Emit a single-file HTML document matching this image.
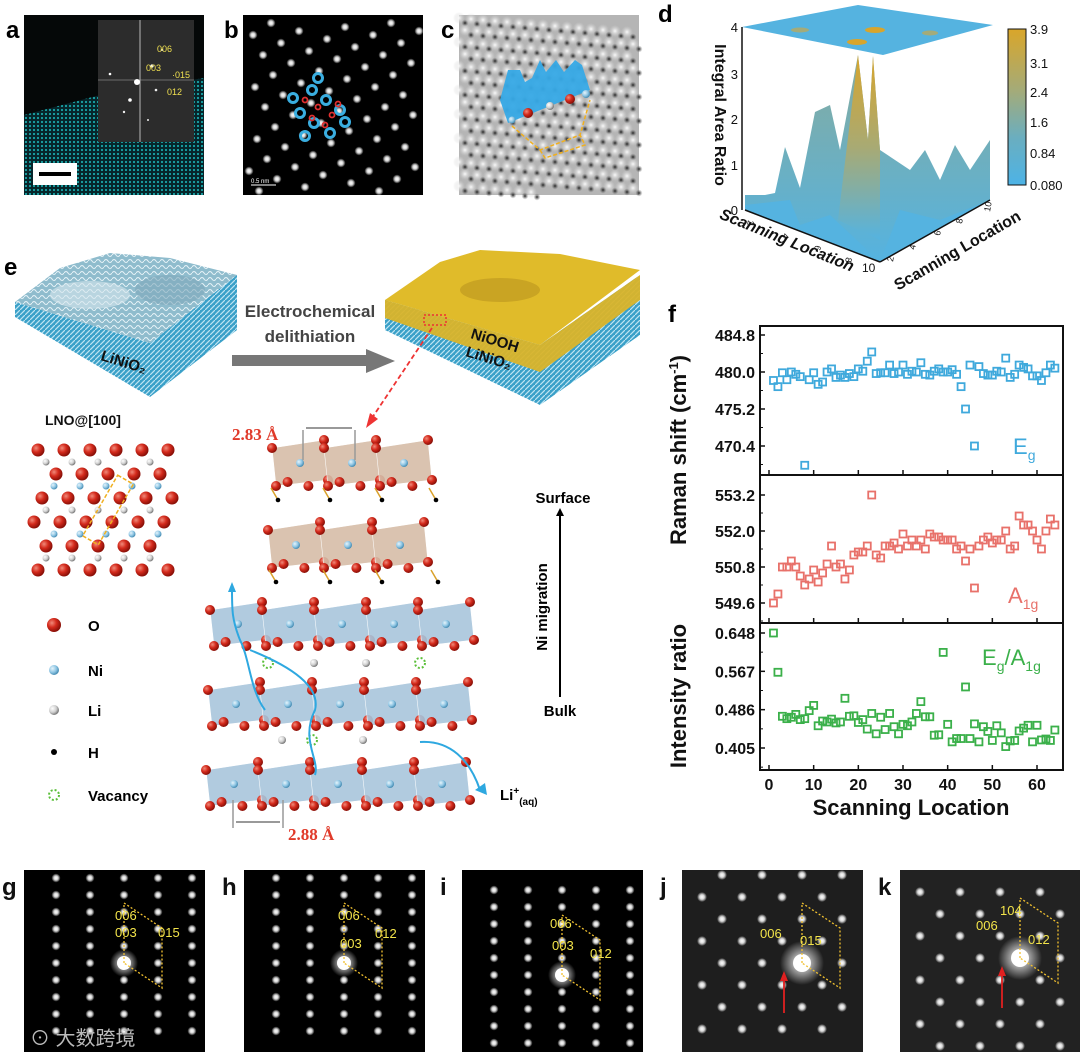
<!DOCTYPE html>
<html><head><meta charset="utf-8">
<style>
html,body{margin:0;padding:0;background:#fff;}
body{width:1080px;height:1057px;position:relative;overflow:hidden;font-family:"Liberation Sans",Arial,sans-serif;}
svg{position:absolute;left:0;top:0;}
</style></head>
<body>
<svg id="fig" width="1080" height="1057" viewBox="0 0 1080 1057" xmlns="http://www.w3.org/2000/svg" font-family="Liberation Sans, Arial, sans-serif">
<defs>
<radialGradient id="gO" cx="35%" cy="35%" r="65%"><stop offset="0" stop-color="#f08a7a"/><stop offset="0.5" stop-color="#d42a1c"/><stop offset="1" stop-color="#8a1008"/></radialGradient>
<radialGradient id="gNi" cx="35%" cy="35%" r="65%"><stop offset="0" stop-color="#e6f4fb"/><stop offset="0.6" stop-color="#8fc6e4"/><stop offset="1" stop-color="#4a8fb5"/></radialGradient>
<radialGradient id="gLi" cx="35%" cy="35%" r="65%"><stop offset="0" stop-color="#ffffff"/><stop offset="0.6" stop-color="#cfcfcf"/><stop offset="1" stop-color="#7a7a7a"/></radialGradient>
<radialGradient id="spot" cx="50%" cy="50%" r="50%"><stop offset="0" stop-color="#fff"/><stop offset="0.45" stop-color="#eee" stop-opacity="0.9"/><stop offset="1" stop-color="#fff" stop-opacity="0"/></radialGradient>
<radialGradient id="cblob" cx="50%" cy="50%" r="50%"><stop offset="0" stop-color="#fafafa"/><stop offset="1" stop-color="#d0d0d0" stop-opacity="0"/></radialGradient>
<radialGradient id="dblob" cx="50%" cy="50%" r="50%"><stop offset="0" stop-color="#222"/><stop offset="1" stop-color="#666" stop-opacity="0"/></radialGradient>
<radialGradient id="glow" cx="50%" cy="50%" r="50%"><stop offset="0" stop-color="#fff"/><stop offset="0.4" stop-color="#fff" stop-opacity="0.6"/><stop offset="1" stop-color="#fff" stop-opacity="0"/></radialGradient>
<linearGradient id="cbar" x1="0" y1="1" x2="0" y2="0"><stop offset="0" stop-color="#4db3e6"/><stop offset="0.3" stop-color="#6aaec0"/><stop offset="0.6" stop-color="#a3ab7a"/><stop offset="1" stop-color="#d9a62a"/></linearGradient>
<linearGradient id="peak" x1="0" y1="1" x2="0" y2="0"><stop offset="0" stop-color="#55b3e0"/><stop offset="0.5" stop-color="#a8aa74"/><stop offset="1" stop-color="#d8a52c"/></linearGradient>
<linearGradient id="midpk" x1="0" y1="1" x2="0" y2="0"><stop offset="0" stop-color="#55b3e0"/><stop offset="1" stop-color="#86ab9e"/></linearGradient>
<pattern id="hatch" width="5" height="5" patternUnits="userSpaceOnUse"><rect width="5" height="5" fill="#3aa0c8"/><path d="M0 5L5 0" stroke="#bfe4f2" stroke-width="1.2"/></pattern>
<pattern id="surf" width="8" height="6" patternUnits="userSpaceOnUse"><rect width="8" height="6" fill="#8fbccd"/><path d="M0 3 Q2 0 4 3 T8 3" stroke="#e6f2f7" stroke-width="1.1" fill="none"/></pattern>
<pattern id="teal" width="4" height="4" patternUnits="userSpaceOnUse"><rect width="4" height="4" fill="#06252a"/><circle cx="2" cy="2" r="1.1" fill="#1aa5a8"/></pattern>
</defs>

<!-- ===== Panel a ===== -->
<text x="6" y="38" font-size="24" font-weight="bold">a</text>
<g>
<rect x="24" y="15" width="180" height="180" fill="#050808"/>
<polygon points="24,115 100,95 204,78 204,195 24,195" fill="url(#teal)"/>
<rect x="98" y="20" width="96" height="122" fill="#2c2c2c"/>
<line x1="140" y1="20" x2="140" y2="142" stroke="#ddd" stroke-width="0.8"/>
<line x1="98" y1="80" x2="194" y2="80" stroke="#aaa" stroke-width="0.6"/>
<circle cx="137" cy="82" r="3" fill="#fff"/><circle cx="152" cy="66" r="1.6" fill="#fff"/><circle cx="130" cy="100" r="1.8" fill="#fff"/><circle cx="110" cy="74" r="1.3" fill="#fff"/><circle cx="124" cy="112" r="1.2" fill="#eee"/><circle cx="156" cy="90" r="1.3" fill="#eee"/><circle cx="162" cy="50" r="1" fill="#eee"/><circle cx="148" cy="120" r="1" fill="#eee"/>
<text x="157" y="52" font-size="9" fill="#f0e050">006</text>
<text x="146" y="71" font-size="9" fill="#f0e050">003</text>
<text x="172" y="78" font-size="9" fill="#f0e050">·015</text>
<text x="167" y="95" font-size="9" fill="#f0e050">012</text>
<rect x="33" y="163" width="44" height="22" fill="#fff"/>
<rect x="39" y="172" width="32" height="4" fill="#000"/>
</g>

<!-- ===== Panel b ===== -->
<text x="224" y="38" font-size="24" font-weight="bold">b</text>
<g>
<rect x="243" y="15" width="180" height="180" fill="#000"/>
<g id="bspots"></g>
<g id="bmarks"></g>
<text x="251" y="183" font-size="6" fill="#fff">0.5 nm</text>
<line x1="251" y1="185" x2="276" y2="185" stroke="#fff" stroke-width="1"/>
</g>

<!-- ===== Panel c ===== -->
<text x="441" y="38" font-size="24" font-weight="bold">c</text>
<g>
<rect x="459" y="15" width="180" height="180" fill="#b5b5b5"/>
<g id="cspots"></g>
<polygon points="500,100 508,70 520,70 525,82 532,78 540,60 546,72 556,60 564,72 575,60 582,65 590,90 508,123" fill="#36a9e6" opacity="0.95"/>
<circle cx="528" cy="113" r="5" fill="url(#gO)"/><circle cx="550" cy="106" r="4" fill="url(#gLi)"/><circle cx="570" cy="99" r="5" fill="url(#gO)"/><circle cx="586" cy="94" r="4" fill="url(#gNi)"/><circle cx="512" cy="120" r="3.5" fill="url(#gNi)"/>
<polyline points="512,126 540,150 580,135 590,100" fill="none" stroke="#f0b020" stroke-width="1.5" stroke-dasharray="4,2"/>
<polyline points="540,150 545,158 585,145 580,135" fill="none" stroke="#f0b020" stroke-width="1.5" stroke-dasharray="4,2"/>
</g>

<!-- ===== Panel d ===== -->
<text x="658" y="22" font-size="24" font-weight="bold">d</text>
<g>
<polygon points="742,27 858,5 993,25 883,55" fill="#55b3e0"/>
<ellipse cx="875" cy="30" rx="10" ry="3" fill="#d8a52c"/><ellipse cx="857" cy="42" rx="10" ry="3" fill="#d8a52c"/><ellipse cx="800" cy="30" rx="9" ry="2.5" fill="#a3ab7a"/><ellipse cx="930" cy="33" rx="8" ry="2.5" fill="#a3ab7a"/>
<polygon points="745,195 765,195 775,193 785,147 800,188 815,112 830,105 840,150 858,55 868,140 873,56 880,150 895,160 910,170 925,150 940,180 955,145 970,170 990,140 990,200 880,262 745,210" fill="url(#midpk)"/>
<polygon points="838,220 858,55 868,140 873,56 880,150 880,240" fill="url(#peak)"/>
<polygon points="745,205 790,200 800,225 830,215 880,262 745,210" fill="#55b3e0"/>
<polygon points="880,262 900,210 940,220 990,200" fill="#55b3e0"/>
<line x1="742" y1="27" x2="742" y2="210" stroke="#111" stroke-width="1.5"/>
<line x1="745" y1="210" x2="880" y2="262" stroke="#111" stroke-width="1.5"/>
<line x1="880" y1="262" x2="990" y2="200" stroke="#111" stroke-width="1.5"/>
<g font-size="13" fill="#111" text-anchor="end"><text x="738" y="32">4</text><text x="738" y="79">3</text><text x="738" y="124">2</text><text x="738" y="170">1</text><text x="738" y="215">0</text></g>
<text transform="translate(715,115) rotate(90)" text-anchor="middle" font-size="16" font-weight="bold" fill="#111">Integral Area Ratio</text>
<text transform="translate(785,245) rotate(22)" text-anchor="middle" font-size="16" font-weight="bold" fill="#111" font-style="italic">Scanning Location</text>
<text transform="translate(960,255) rotate(-30)" text-anchor="middle" font-size="16" font-weight="bold" fill="#111">Scanning Location</text>
<g font-size="9" fill="#111"><text transform="translate(748,220) rotate(100)">2</text><text transform="translate(783,233) rotate(100)">4</text><text transform="translate(815,245) rotate(100)">6</text><text transform="translate(846,257) rotate(100)">8</text><text x="862" y="272" font-size="12">10</text>
<text transform="translate(893,262) rotate(-80)">2</text><text transform="translate(915,250) rotate(-80)">4</text><text transform="translate(940,236) rotate(-80)">6</text><text transform="translate(962,224) rotate(-80)">8</text><text transform="translate(990,212) rotate(-80)">10</text></g>
<rect x="1008" y="29" width="18" height="156" fill="url(#cbar)" stroke="#111" stroke-width="1"/>
<g font-size="13" fill="#111"><text x="1030" y="34">3.9</text><text x="1030" y="68">3.1</text><text x="1030" y="97">2.4</text><text x="1030" y="127">1.6</text><text x="1030" y="158">0.84</text><text x="1030" y="190">0.080</text></g>
</g>

<!-- ===== Panel e ===== -->
<text x="4" y="275" font-size="24" font-weight="bold">e</text>
<g>
<polygon points="15,302 150,343 150,397 15,317" fill="url(#hatch)"/>
<polygon points="150,343 237,275 237,330 150,397" fill="url(#hatch)"/>
<polygon points="15,302 60,268 110,253 170,258 237,275 150,343" fill="url(#surf)"/>
<ellipse cx="90" cy="295" rx="40" ry="14" fill="#d6e6ec" opacity="0.6"/><ellipse cx="170" cy="290" rx="35" ry="15" fill="#7fa9bb" opacity="0.6"/>
<text transform="translate(100,360) rotate(17)" font-size="15" font-weight="bold" fill="#111">LiNiO₂</text>
</g>
<g>
<rect x="232" y="355" width="136" height="11" fill="#777"/>
<polygon points="366,349 395,361 366,373" fill="#777"/>
<text x="310" y="317" font-size="17" font-weight="bold" fill="#444" text-anchor="middle">Electrochemical</text>
<text x="310" y="342" font-size="17" font-weight="bold" fill="#444" text-anchor="middle">delithiation</text>
</g>
<g>
<polygon points="385,300 540,345 540,405 385,330" fill="url(#hatch)"/>
<polygon points="540,345 640,275 640,335 540,405" fill="url(#hatch)"/>
<polygon points="385,300 540,345 640,275 640,300 540,372 385,318" fill="#d9b42a" opacity="0.95"/>
<polygon points="385,300 440,262 480,250 560,254 640,270 540,345" fill="#e0bb2a"/>
<ellipse cx="500" cy="290" rx="40" ry="12" fill="#c9a423"/>
<rect x="424" y="315" width="22" height="10" fill="none" stroke="#e33" stroke-width="1.5" stroke-dasharray="2,2"/>
<text transform="translate(470,338) rotate(17)" font-size="15" font-weight="bold" fill="#111">NiOOH</text>
<text transform="translate(465,356) rotate(17)" font-size="15" font-weight="bold" fill="#111">LiNiO₂</text>
<line x1="432" y1="328" x2="372" y2="418" stroke="#e33" stroke-width="1.8" stroke-dasharray="5,3"/>
<polygon points="366,428 370,413 378,419" fill="#e33"/>
</g>
<text x="45" y="425" font-size="14" font-weight="bold" fill="#111">LNO@[100]</text>
<g id="lno"></g>
<g>
<circle cx="54" cy="625" r="7" fill="url(#gO)"/><text x="88" y="631" font-size="15" font-weight="bold">O</text>
<circle cx="54" cy="670" r="5" fill="url(#gNi)"/><text x="88" y="676" font-size="15" font-weight="bold">Ni</text>
<circle cx="54" cy="710" r="5" fill="url(#gLi)"/><text x="88" y="716" font-size="15" font-weight="bold">Li</text>
<circle cx="54" cy="752" r="3" fill="#000"/><text x="88" y="758" font-size="15" font-weight="bold">H</text>
<circle cx="54" cy="795" r="5" fill="none" stroke="#5bbf3a" stroke-width="2" stroke-dasharray="2,2"/><text x="88" y="801" font-size="15" font-weight="bold">Vacancy</text>
</g>
<g id="octa"></g>
<g>
<text x="232" y="440" font-size="17" font-weight="bold" fill="#e03a2a" font-family="Liberation Serif, serif">2.83 Å</text>
<line x1="303" y1="430" x2="303" y2="460" stroke="#999" stroke-width="1.5"/><line x1="355" y1="430" x2="355" y2="460" stroke="#999" stroke-width="1.5"/>
<line x1="306" y1="428" x2="352" y2="428" stroke="#999" stroke-width="2"/>
<text x="288" y="840" font-size="17" font-weight="bold" fill="#e03a2a" font-family="Liberation Serif, serif">2.88 Å</text>
<line x1="233" y1="800" x2="233" y2="828" stroke="#999" stroke-width="1.5"/><line x1="283" y1="800" x2="283" y2="828" stroke="#999" stroke-width="1.5"/>
<line x1="236" y1="822" x2="280" y2="822" stroke="#999" stroke-width="2"/>
<text x="563" y="503" font-size="15" font-weight="bold" text-anchor="middle">Surface</text>
<line x1="560" y1="697" x2="560" y2="515" stroke="#000" stroke-width="2"/><polygon points="556,516 560,508 564,516" fill="#000"/>
<text transform="translate(547,607) rotate(-90)" font-size="15" font-weight="bold" text-anchor="middle">Ni migration</text>
<text x="560" y="716" font-size="15" font-weight="bold" text-anchor="middle">Bulk</text>
<text x="500" y="800" font-size="15" font-weight="bold">Li<tspan font-size="10" dy="-6">+</tspan><tspan font-size="10" dy="11">(aq)</tspan></text>
<path d="M265,710 C250,690 250,660 240,640 C232,620 232,610 232,590" fill="none" stroke="#2ea8e0" stroke-width="2"/>
<polygon points="228,592 232,582 236,592" fill="#2ea8e0"/>
<path d="M315,775 C320,760 300,740 315,710 C320,690 300,670 250,650" fill="none" stroke="#2ea8e0" stroke-width="2"/>
<path d="M420,742 C450,740 470,760 480,790" fill="none" stroke="#2ea8e0" stroke-width="2"/>
<polygon points="475,790 487,795 485,783" fill="#2ea8e0"/>
</g>

<!-- ===== Panel f ===== -->
<text x="668" y="322" font-size="24" font-weight="bold">f</text>
<g id="chartf"></g>

<!-- ===== Bottom SAED panels ===== -->
<g id="saed"></g>
<text x="30" y="1045" font-size="20" fill="#bbb" font-family="Liberation Sans, Noto Sans CJK SC, sans-serif">⊙ 大数跨境</text>
</svg>

<script>
// ---------- chart f data ----------
const xLoc = [1,2,3,4,5,6,7,8,9,10,11,12,13,14,15,16,17,18,19,20,21,22,23,24,25,26,27,28,29,30,31,32,33,34,35,36,37,38,39,40,41,42,43,44,45,46,47,48,49,50,51,52,53,54,55,56,57,58,59,60,61,62,63,64];
const egShift = [478.9,478.1,479.9,479.0,480.0,479.7,479.4,467.9,479.0,479.9,478.4,478.7,480.0,480.4,479.3,479.6,479.3,479.8,479.4,480.4,480.1,481.4,482.6,479.8,479.9,479.9,480.9,479.8,480.0,480.9,479.7,480.1,480.0,481.2,479.7,479.6,480.1,480.4,480.0,480.0,480.3,479.7,478.1,475.2,480.9,470.4,480.7,479.8,479.6,479.6,480.1,480.0,481.8,479.3,479.7,480.9,480.6,480.4,479.5,479.5,478.9,479.9,480.9,480.5];
const a1gShift = [549.6,549.9,550.8,550.8,551.0,550.8,550.5,550.2,550.4,550.7,550.3,550.6,550.9,551.5,550.8,550.9,550.4,550.7,551.2,551.3,551.3,551.5,553.2,551.2,551.1,551.5,551.5,551.6,551.4,551.9,551.5,551.7,551.5,551.7,551.4,551.9,551.8,551.8,551.7,551.7,551.7,551.4,551.5,551.0,551.4,550.1,551.5,551.7,551.8,551.6,551.7,551.7,552.0,551.4,551.5,552.5,552.2,552.2,552.0,551.7,551.4,552.0,552.4,552.2];
const ratio = [0.648,0.565,0.472,0.467,0.470,0.476,0.465,0.467,0.484,0.495,0.452,0.462,0.460,0.466,0.458,0.460,0.510,0.472,0.473,0.459,0.465,0.445,0.478,0.435,0.470,0.444,0.478,0.450,0.435,0.455,0.452,0.460,0.478,0.503,0.471,0.471,0.432,0.433,0.607,0.455,0.418,0.425,0.425,0.534,0.425,0.456,0.418,0.450,0.440,0.421,0.452,0.437,0.408,0.420,0.421,0.441,0.447,0.453,0.418,0.453,0.422,0.424,0.421,0.443];
const xTicks = [0,10,20,30,40,50,60];
const egTicks = ["484.8","480.0","475.2","470.4"];
const a1gTicks = ["553.2","552.0","550.8","549.6"];
const ratioTicks = ["0.648","0.567","0.486","0.405"];

const NS = "http://www.w3.org/2000/svg";
function mk(tag, attrs, parent){const e=document.createElementNS(NS,tag);for(const k in attrs)e.setAttribute(k,attrs[k]);if(parent)parent.appendChild(e);return e;}

const chart = document.getElementById('chartf');
const L=760,R=1063;
const xScale = v => 769 + (v-0)*(1037-769)/60;
function yLin(v0,p0,v1,p1){return v=>p0+(v-v0)*(p1-p0)/(v1-v0);}
const panels = [
  {name:'eg', top:326, bot:475, data:egShift, ticks:egTicks, y:yLin(484.8,335,470.4,446), color:'#3fa9dc'},
  {name:'a1g', top:475, bot:623, data:a1gShift, ticks:a1gTicks, y:yLin(553.2,495,549.6,603), color:'#e8716a'},
  {name:'ratio', top:623, bot:770, data:ratio, ticks:ratioTicks, y:yLin(0.648,633,0.405,748), color:'#3bb04a'}
];
panels.forEach(p=>{
  const fr = mk('rect',{x:L,y:p.top,width:R-L,height:p.bot-p.top,fill:'none',stroke:'#111','stroke-width':2},chart);
  
  
  p.ticks.forEach(t=>{
    const yy=p.y(parseFloat(t));
    const half=(p.y(parseFloat(p.ticks[1]))-p.y(parseFloat(p.ticks[0])))/2;
    mk('line',{x1:L,x2:L+5,y1:yy,y2:yy,stroke:'#111','stroke-width':1.5},chart);
    mk('line',{x1:L,x2:L+3,y1:yy+half,y2:yy+half,stroke:'#111','stroke-width':1},chart);
    const tl = mk('text',{x:L-5,y:yy+6,'text-anchor':'end','font-size':16,'font-weight':'bold',fill:'#111'},chart);
    tl.textContent=t;
    
    
  });
  xTicks.forEach(t=>{const xx=xScale(t);mk('line',{x1:xx,x2:xx,y1:p.bot,y2:p.bot-5,stroke:'#111','stroke-width':1.5},chart);});
  p.data.forEach((v,i)=>{
    const m = mk('rect',{x:xScale(xLoc[i])-3.5,y:p.y(v)-3.5,width:7,height:7,fill:'none',stroke:p.color,'stroke-width':1.8},chart);
    
    
  });
});
xTicks.forEach(t=>{
  const tl=mk('text',{x:xScale(t),y:790,'text-anchor':'middle','font-size':16,'font-weight':'bold',fill:'#111'},chart);
  tl.textContent=t;
  
  
});
const xt=mk('text',{x:911,y:815,'text-anchor':'middle','font-size':22,'font-weight':'bold',fill:'#111'},chart);
xt.textContent='Scanning Location';


const y1=mk('text',{transform:'translate(686,450) rotate(-90)','text-anchor':'middle','font-size':22,'font-weight':'bold',fill:'#111'},chart);
y1.innerHTML='Raman shift (cm<tspan font-size="13" dy="-8">-1</tspan><tspan dy="8">)</tspan>';


const y2=mk('text',{transform:'translate(686,696) rotate(-90)','text-anchor':'middle','font-size':22,'font-weight':'bold',fill:'#111'},chart);
y2.textContent='Intensity ratio';


const l1=mk('text',{x:1013,y:454,'font-size':22,fill:'#3fa9dc'},chart);l1.innerHTML='E<tspan font-size="14" dy="6">g</tspan>';


const l2=mk('text',{x:1008,y:603,'font-size':22,fill:'#e8716a'},chart);l2.innerHTML='A<tspan font-size="14" dy="6">1g</tspan>';


const l3=mk('text',{x:982,y:665,'font-size':22,fill:'#3bb04a'},chart);l3.innerHTML='E<tspan font-size="14" dy="6">g</tspan><tspan dy="-6">/A</tspan><tspan font-size="14" dy="6">1g</tspan>';



// ---------- decorative panels ----------
const bs=document.getElementById('bspots');
for(let r=-6;r<14;r++)for(let c=-6;c<14;c++){
  const x=243+c*28+r*10, y=15+r*20+c*8;
  if(x>247&&x<420&&y>19&&y<192) mk('circle',{cx:x,cy:y,r:4.5,fill:'url(#spot)'},bs);
}
const bm=document.getElementById('bmarks');
[[312,90],[326,100],[340,110],[300,113],[314,123],[330,133],[293,98],[345,122],[318,78],[305,136]].forEach(p=>mk('circle',{cx:p[0],cy:p[1],r:4.5,fill:'none',stroke:'#3aaee0','stroke-width':3},bm));
[[305,100],[318,107],[332,115],[312,118],[325,125],[338,104]].forEach(p=>mk('circle',{cx:p[0],cy:p[1],r:2.5,fill:'none',stroke:'#e03030','stroke-width':1.8},bm));
const cs=document.getElementById('cspots');
for(let r=0;r<16;r++)for(let c=0;c<16;c++){
  const x=459+c*12+(r%2)*6, y=18+r*12+c*1;
  if(x<637&&y<193){mk('circle',{cx:x,cy:y,r:6,fill:'url(#cblob)'},cs);mk('circle',{cx:x+6,cy:y+5,r:3.5,fill:'url(#dblob)'},cs);}
}
const lno=document.getElementById('lno');
for(let r=0;r<6;r++){
  const y=450+r*24;
  for(let c=0;c<6;c++){const x=38+c*26+(r%2)*(-10)+ (r*2); if(x>30&&x<176) mk('circle',{cx:x,cy:y,r:6.5,fill:'url(#gO)'},lno);}
  if(r<5) for(let c=0;c<6;c++){const x=46+c*26+(r%2)*8; const ty=y+12; if(x<176) mk('circle',{cx:x,cy:ty,r:3.5,fill:(r%2?'url(#gNi)':'url(#gLi)')},lno);}
}
mk('rect',{x:-9,y:-35,width:18,height:70,fill:'none',stroke:'#f0b020','stroke-width':1.5,'stroke-dasharray':'4,2',transform:'translate(108,510) rotate(30)'},lno);

const oc=document.getElementById('octa');
function layer(x0,y0,n,w,h,fill){
  for(let i=0;i<n;i++){
    const x=x0+i*w;
    mk('polygon',{points:`${x},${y0+8} ${x+w},${y0} ${x+w+4},${y0+h-6} ${x+4},${y0+h}`,fill:fill,stroke:'#fff','stroke-width':0.6,opacity:0.9},oc);
    mk('circle',{cx:x+w/2+2,cy:y0+h/2,r:4,fill:'url(#gNi)'},oc);
    [[x,y0+8],[x+w,y0],[x+4,y0+h],[x+w+4,y0+h-6],[x+w*0.7,y0+h],[x+w*0.3,y0+h-4]].forEach(p=>mk('circle',{cx:p[0],cy:p[1],r:5,fill:'url(#gO)'},oc));
  }
}
layer(272,440,3,52,46,'#d6bda8');
layer(268,522,3,52,46,'#d6bda8');
[[278,500],[330,500],[382,500],[436,500],[276,582],[330,582],[382,582],[438,582]].forEach(p=>{mk('line',{x1:p[0]-7,y1:p[1]-12,x2:p[0],y2:p[1],stroke:'#d9a12a','stroke-width':1.5},oc);mk('circle',{cx:p[0],cy:p[1],r:2.3,fill:'#000'},oc);});
layer(210,602,5,52,44,'#a9c6dc');
layer(208,682,5,52,44,'#a9c6dc');
layer(206,762,5,52,44,'#a9c6dc');
[[314,663],[366,663],[282,740],[363,740]].forEach(p=>mk('circle',{cx:p[0],cy:p[1],r:4,fill:'url(#gLi)'},oc));
[[268,663],[420,663],[312,740]].forEach(p=>mk('circle',{cx:p[0],cy:p[1],r:5,fill:'none',stroke:'#5bbf3a','stroke-width':2,'stroke-dasharray':'2,2'},oc));

// SAED bottom row
const saed=document.getElementById('saed');
const sp=[
 {l:'g',x:24,lab:[['006',115,920],['003',115,937],['015',158,937]],bg:'#000'},
 {l:'h',x:244,lab:[['006',338,920],['003',340,948],['012',375,938]],bg:'#000'},
 {l:'i',x:462,lab:[['006',550,928],['003',552,950],['012',590,958]],bg:'#000'},
 {l:'j',x:682,lab:[['006',760,938],['015',800,945]],bg:'#1e1e1e'},
 {l:'k',x:900,lab:[['104',1000,915],['006',976,930],['012',1028,944]],bg:'#222'}
];
sp.forEach((p,idx)=>{
  const lt=mk('text',{x:p.x-22,y:895,'font-size':24,'font-weight':'bold',fill:'#111'},saed);
  lt.textContent=p.l;
  
  
  const g=mk('g',{},saed);
  
  
  mk('rect',{x:p.x,y:870,width:181,height:182,fill:p.bg},g);
  const cx=p.x+ (idx<3? 100:120), cy=(idx==2?975:(idx==4?958:963));
  for(let r=-6;r<=6;r++)for(let c=-4;c<=4;c++){
    const x=cx+c*(idx>2?40:34)+(idx>2?(r%2)*20:0), y=cy+r*(idx>2?22:17);
    if(x>p.x+4&&x<p.x+177&&y>874&&y<1048) mk('circle',{cx:x,cy:y,r:idx>2?5:4.5,fill:'url(#spot)'},g);
  }
  mk('circle',{cx:cx,cy:cy,r:idx>2?22:14,fill:'url(#glow)'},g);
  mk('circle',{cx:cx,cy:cy,r:idx>2?9:7,fill:'#fff'},g);
  mk('polygon',{points:`${cx},${cy} ${cx},${cy-60} ${cx+38},${cy-35} ${cx+38},${cy+25}`,fill:'none',stroke:'#f0c030','stroke-width':1.3,'stroke-dasharray':'2,2'},g);
  p.lab.forEach(t=>{const tx=mk('text',{x:t[1],y:t[2],'font-size':13,fill:'#f2e34a'},g);tx.textContent=t[0];});
  if(idx>=3){mk('line',{x1:cx-18,y1:cy+50,x2:cx-18,y2:cy+15,stroke:'#e02020','stroke-width':1.8},g);mk('polygon',{points:`${cx-22},${cy+18} ${cx-18},${cy+8} ${cx-14},${cy+18}`,fill:'#e02020'},g);}
});
</script>
</body></html>
